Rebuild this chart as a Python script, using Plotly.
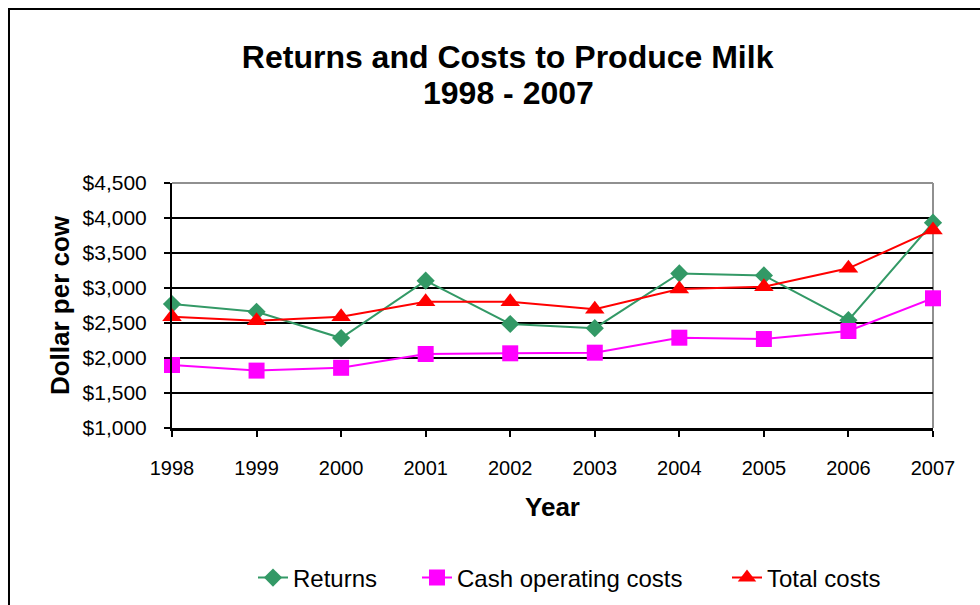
import plotly.graph_objects as go

years = [1998, 1999, 2000, 2001, 2002, 2003, 2004, 2005, 2006, 2007]
returns = [2770, 2660, 2285, 3105, 2486, 2426, 3208, 3180, 2540, 3933]
cash_costs = [1900, 1820, 1860, 2057, 2067, 2076, 2290, 2271, 2386, 2853]
total_costs = [2590, 2533, 2590, 2804, 2804, 2696, 2986, 3019, 3281, 3829]
y_ticks = [1000, 1500, 2000, 2500, 3000, 3500, 4000, 4500]
y_tick_labels = ["$1,000", "$1,500", "$2,000", "$2,500", "$3,000", "$3,500", "$4,000", "$4,500"]
title_line1 = "Returns and Costs to Produce Milk"
title_line2 = "1998 - 2007"

FONT = "Arial, 'Liberation Sans', sans-serif"

fig = go.Figure()
fig.add_trace(go.Scatter(x=years, y=returns, name="Returns", mode="lines+markers",
                         line=dict(color="#339966", width=2),
                         marker=dict(symbol="diamond", size=14, color="#339966"),
                         cliponaxis=False, legend="legend"))
fig.add_trace(go.Scatter(x=years, y=cash_costs, name="Cash operating costs", mode="lines+markers",
                         line=dict(color="#FF00FF", width=2),
                         marker=dict(symbol="square", size=16, color="#FF00FF"),
                         cliponaxis=False, legend="legend2"))
fig.add_trace(go.Scatter(x=years, y=total_costs, name="Total costs", mode="lines+markers",
                         line=dict(color="#FF0000", width=2),
                         marker=dict(symbol="triangle-up", size=17, color="#FF0000"),
                         cliponaxis=False, legend="legend3"))

L, B, W, H = 172, 428, 761, 245


def legend_at(px):
    return dict(orientation="h", x=(px - L) / W, xanchor="left", y=(B - 578) / H, yanchor="middle",
                font=dict(size=24), bgcolor="rgba(0,0,0,0)", itemwidth=30)


fig.update_layout(
    width=980, height=605,
    margin=dict(l=172, r=47, t=183, b=177, autoexpand=False),
    paper_bgcolor="white", plot_bgcolor="white",
    font=dict(family=FONT, color="black", size=20),
    title=dict(text="<b>" + title_line1 + "</b>",
               x=0.518, xanchor="center", y=1 - 57 / 605, yanchor="middle",
               font=dict(size=32, family=FONT, color="black")),
    annotations=[dict(text="<b>" + title_line2 + "</b>", xref="paper", yref="paper",
                      x=(508 - L) / W, y=(B - 93) / H, xanchor="center", yanchor="middle",
                      showarrow=False, font=dict(size=32, family=FONT, color="black"))],
    xaxis=dict(range=[1998, 2007], tickvals=years, ticktext=[str(y) for y in years],
               automargin=False,
               showgrid=False, zeroline=False, showline=True, linecolor="black", linewidth=3,
               ticks="outside", ticklen=6, tickwidth=2, tickcolor="black",
               ticklabelstandoff=14,
               tickfont=dict(size=20),
               title=dict(text="<b>Year</b>", font=dict(size=26), standoff=20)),
    yaxis=dict(range=[1000, 4500], tickvals=y_ticks, ticktext=y_tick_labels,
               automargin=False,
               showgrid=True, gridcolor="black", gridwidth=2, zeroline=False,
               showline=True, linecolor="black", linewidth=2,
               ticks="outside", ticklen=6, tickwidth=2, tickcolor="black",
               ticklabelstandoff=13,
               tickfont=dict(size=21),
               title=dict(text="<b>Dollar per cow</b>", font=dict(size=26), standoff=5)),
    legend=legend_at(253),
    legend2=legend_at(417),
    legend3=legend_at(727),
    showlegend=True,
    shapes=[
        dict(type="line", xref="x domain", yref="y domain", x0=0, x1=1, y0=1, y1=1,
             line=dict(color="#909090", width=2), layer="above"),
        dict(type="line", xref="x domain", yref="y domain", x0=1, x1=1, y0=0, y1=1,
             line=dict(color="#909090", width=2), layer="below"),
        dict(type="rect", xref="paper", yref="paper", x0=-0.2142, x1=1.2, y0=-1.0, y1=1.7102,
             line=dict(color="black", width=2), fillcolor="rgba(0,0,0,0)", layer="below"),
    ],
)

fig.write_html("out.html")
